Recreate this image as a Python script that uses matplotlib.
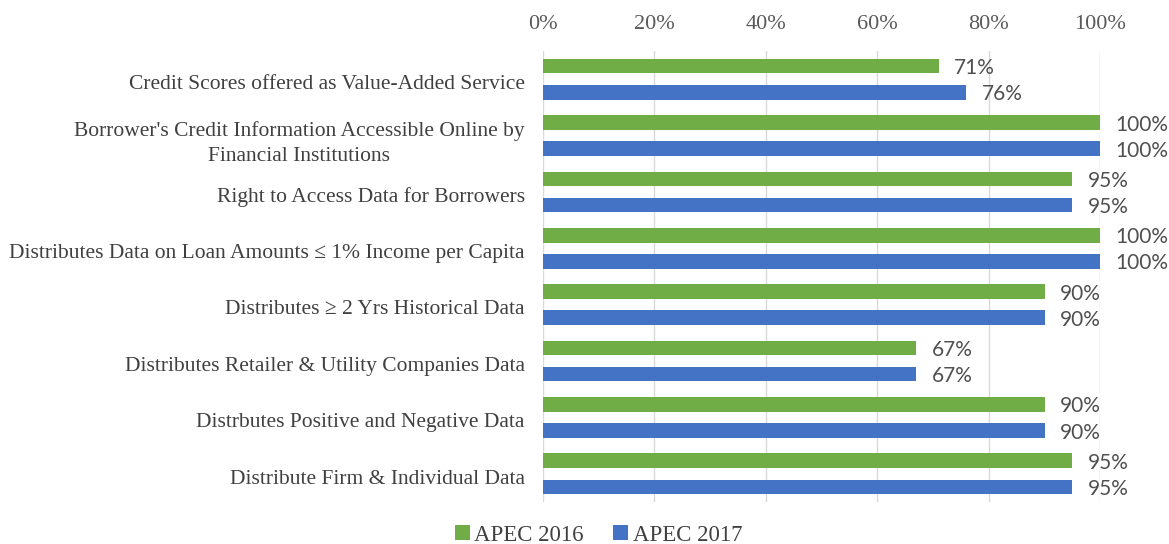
import matplotlib.pyplot as plt
import matplotlib.transforms as mtransforms
import numpy as np
from matplotlib.ticker import PercentFormatter

categories = [
    "Credit Scores offered as Value-Added Service",
    "Borrower's Credit Information Accessible Online by\nFinancial Institutions",
    "Right to Access Data for Borrowers",
    "Distributes Data on Loan Amounts \u2264 1% Income per Capita",
    "Distributes \u2265 2 Yrs Historical Data",
    "Distributes Retailer & Utility Companies Data",
    "Distrbutes Positive and Negative Data",
    "Distribute Firm & Individual Data",
]
apec_2016 = [71, 100, 95, 100, 90, 67, 90, 95]
apec_2017 = [76, 100, 95, 100, 90, 67, 90, 95]
x_ticks = [0, 20, 40, 60, 80, 100]

plt.rcParams["font.family"] = ["Liberation Serif", "DejaVu Serif"]

green = "#70ad47"
blue = "#4472c4"
text_col = "#404040"

fig = plt.figure(figsize=(11.69, 5.44), dpi=100)
ax = fig.add_axes([0.4643, 0.0772, 0.4769, 0.829])

y = np.arange(len(categories))
h = 0.26
off = 0.232
b1 = ax.barh(y - off, apec_2016, height=h, color=green, label="APEC 2016", zorder=3)
b2 = ax.barh(y + off, apec_2017, height=h, color=blue, label="APEC 2017", zorder=3)

for bars, vals in [(b1, apec_2016), (b2, apec_2017)]:
    for bar, v in zip(bars, vals):
        ax.annotate(f"{v}%", (bar.get_width(), bar.get_y() + bar.get_height() / 2),
                    xytext=(11, -1.5), textcoords="offset points",
                    va="center", ha="left", fontsize=15, color="#505050",
                    family=["Lato", "DejaVu Sans"])

ax.set_xlim(0, 100)
ax.set_ylim(len(categories) - 0.5, -0.5)
ax.set_xticks(x_ticks)
ax.xaxis.set_major_formatter(PercentFormatter(decimals=0))
ax.xaxis.tick_top()
ax.tick_params(axis="x", length=0, pad=12.5, labelsize=16, labelcolor="#595959")
ax.set_yticks(y)
ax.set_yticklabels(categories)
ax.tick_params(axis="y", length=0, pad=13, labelsize=15.5, labelcolor=text_col)
shift = mtransforms.ScaledTranslation(0, -2 / 72, fig.dpi_scale_trans)
for lbl in ax.get_yticklabels():
    lbl.set_multialignment("center")
    lbl.set_linespacing(1.4)
    lbl.set_transform(lbl.get_transform() + shift)
ax.grid(axis="x", color="#d9d9d9", linewidth=1, zorder=0)
for s in ax.spines.values():
    s.set_visible(False)

fig.legend(handles=[b1, b2], loc="center", bbox_to_anchor=(0.512, 0.016), ncol=2,
           frameon=False, fontsize=16.5, handlelength=0.65, handleheight=0.65,
           handletextpad=0.2, columnspacing=1.3, labelcolor=text_col,
           borderpad=0, borderaxespad=0)

fig.savefig("out.png", dpi=100)
